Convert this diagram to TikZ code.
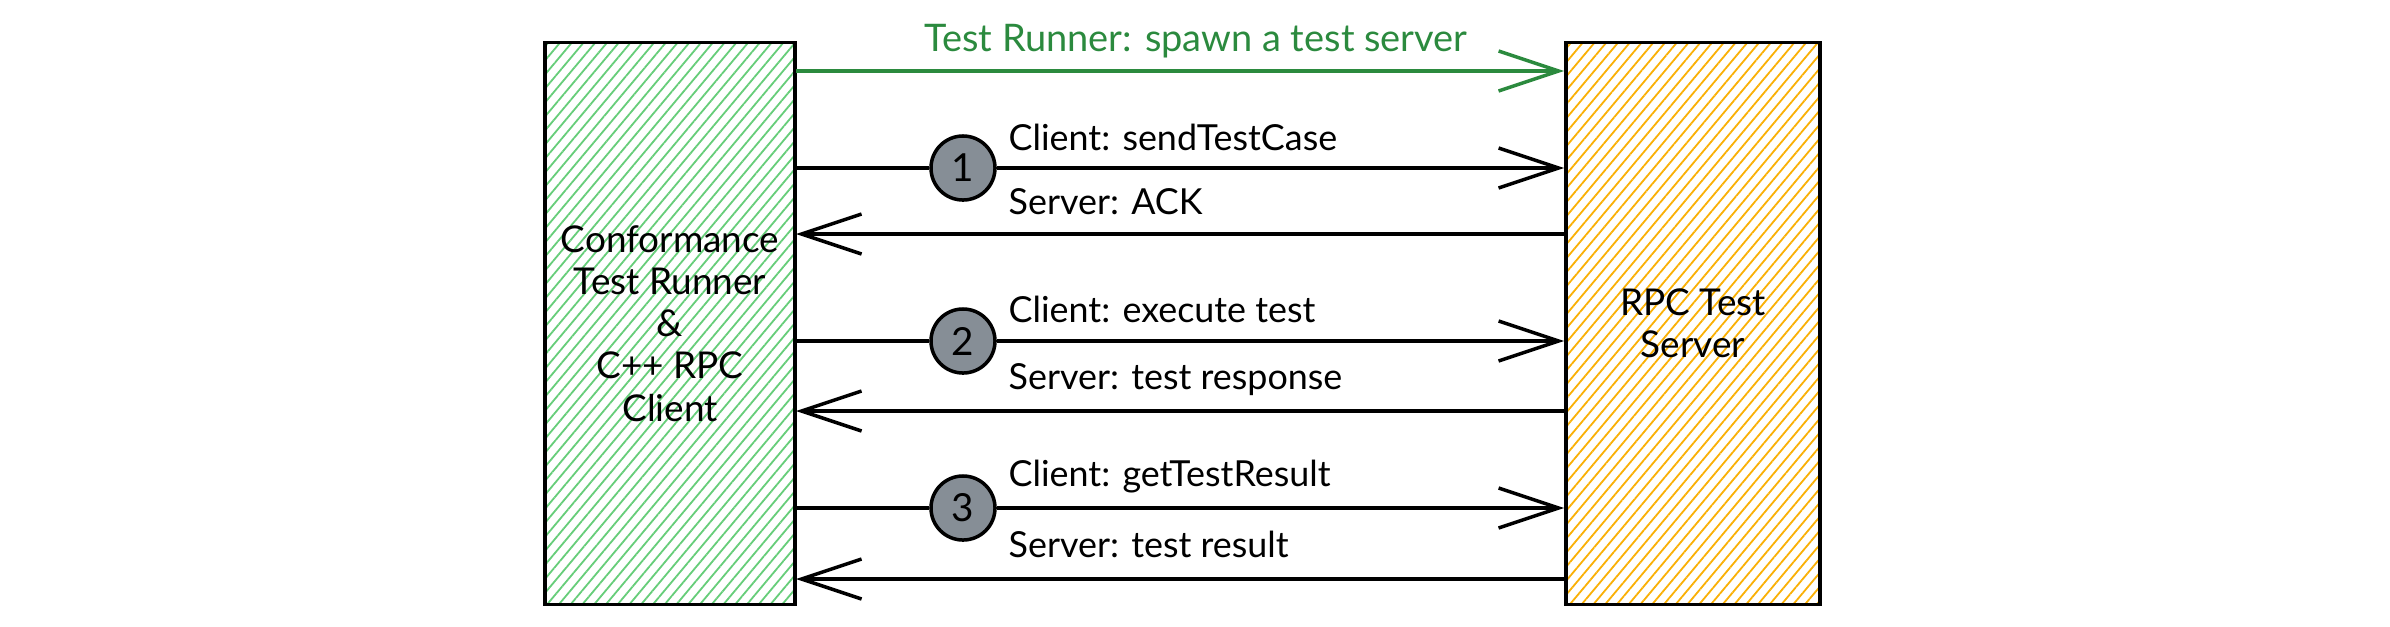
\documentclass[tikz,border=0pt]{standalone}
\usepackage{fontspec}
\setmainfont{Lato}
\usetikzlibrary{arrows.meta,patterns.meta,positioning}
\definecolor{exgreen}{HTML}{2B8A3E}
\definecolor{hatchgreen}{HTML}{40C057}
\definecolor{hatchyellow}{HTML}{FAB005}
\definecolor{bubblegray}{HTML}{868E96}
\tikzset{
  party/.style={draw=black, line width=1pt, minimum width=2.5cm, minimum height=5.62cm,
    align=center, font=\fontsize{10.5}{12}\selectfont},
  hatch/.style={pattern={Lines[angle=50,distance=0.9mm,line width=0.18mm]}, pattern color=#1},
  msg/.style={line width=1pt, -{Straight Barb[length=6mm,width=4mm]}},
  stepnum/.style={circle, draw=black, line width=1pt, fill=bubblegray, minimum size=0.64cm,
    inner sep=0pt, font=\fontsize{11}{12}\selectfont},
  msglabel/.style={anchor=west, inner sep=0pt, font=\fontsize{10.2}{12}\selectfont}
}
\begin{document}
\begin{tikzpicture}[x=0.01cm, y=-0.01cm]
    % 1. Page frame
    \useasboundingbox (0,0) rectangle (2390,626);

    % 2. The two parties
    \node[party, hatch=hatchgreen!80]
        (client) at (670,323.5) {Conformance\\Test Runner\\\&\\C++ RPC\\Client};
    \node[party, minimum width=2.54cm, hatch=hatchyellow]
        (server) at (1693,323.5) {RPC Test\\Server};

    % 3. Spawn the server
    \coordinate (spawn) at (1000,71);
    \draw[msg, exgreen] (client.east |- spawn) -- (server.west |- spawn);
    \node[font=\fontsize{10.8}{12}\selectfont, text=exgreen] (spawnlbl) at (1196,41) {Test Runner: spawn a test server};

    % 4. Numbered steps
    \node[stepnum] (s1) at (963,168) {1};
    \node[stepnum] (s2) at (963,341) {2};
    \node[stepnum] (s3) at (963,508) {3};
    \coordinate (b1) at (1000,234);
    \coordinate (b2) at (1000,411);
    \coordinate (b3) at (1000,579);

    \foreach \s/\b in {s1/b1, s2/b2, s3/b3} {
        \draw[line width=1pt] (client.east |- \s) -- (\s);
        \draw[msg] (\s) -- (server.west |- \s);
        \draw[msg] (server.west |- \b) -- (client.east |- \b);
    }

    % 5. Message texts
    \node[msglabel] (c1) at (1008,137) {Client: sendTestCase};
    \node[msglabel] (r1) at (1008,202) {Server: ACK};
    \node[msglabel] (c2) at (1008,309) {Client: execute test};
    \node[msglabel] (r2) at (1008,380) {Server: test response};
    \node[msglabel] (c3) at (1008,477) {Client: getTestResult};
    \node[msglabel] (r3) at (1008,544) {Server: test result};
\end{tikzpicture}
\end{document}
